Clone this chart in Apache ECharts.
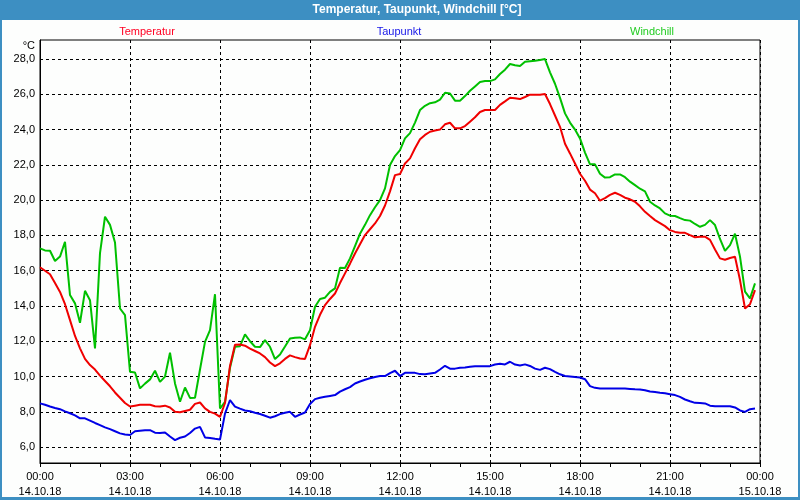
<!DOCTYPE html>
<html>
<head>
<meta charset="utf-8">
<script src="https://cdn.jsdelivr.net/npm/echarts@6/dist/echarts.min.js"></script>
<style>
html,body{margin:0;padding:0;background:#fff;}
#chart{width:800px;height:500px;}
</style>
</head>
<body>
<div id="chart"></div>
<script>
// 10-minute samples, 14.10.18 00:00 .. 23:50
const STEP_MIN = 10;
const temperatur = [
  16.2, 16.0, 15.8, 15.3, 14.8, 14.1,
  13.2, 12.3, 11.6, 11.0, 10.65, 10.4,
  10.05, 9.75, 9.45, 9.1, 8.8, 8.5,
  8.3, 8.35, 8.4, 8.4, 8.4, 8.32,
  8.3, 8.35, 8.25, 8.0, 7.98, 8.05,
  8.12, 8.45, 8.53, 8.2, 8.0, 7.9,
  7.72, 8.5, 10.6, 11.8, 11.82, 11.75,
  11.58, 11.45, 11.31, 11.1, 10.8, 10.59,
  10.75, 11.0, 11.2, 11.1, 11.02, 11.0,
  11.78, 12.82, 13.5, 14.05, 14.4, 14.71,
  15.3, 15.85, 16.4, 16.98, 17.5, 18.02,
  18.35, 18.68, 19.1, 19.7, 20.5, 21.42,
  21.48, 22.08, 22.37, 22.94, 23.45, 23.7,
  23.88, 23.95, 24.0, 24.3, 24.39, 24.07,
  24.07, 24.2, 24.45, 24.7, 25.0, 25.11,
  25.11, 25.11, 25.4, 25.6, 25.81, 25.78,
  25.73, 25.85, 25.98, 25.98, 25.98, 26.02,
  25.45, 24.8, 24.16, 23.2, 22.65, 22.08,
  21.5, 21.1, 20.6, 20.39, 19.97, 20.12,
  20.3, 20.42, 20.3, 20.14, 20.05, 19.91,
  19.65, 19.34, 19.1, 18.87, 18.7, 18.53,
  18.3, 18.2, 18.15, 18.15, 18.02, 17.9,
  17.92, 17.93, 17.75, 17.2, 16.7, 16.62,
  16.72, 16.79, 15.47, 13.86, 14.1, 14.9
];
const taupunkt = [
  8.48, 8.4, 8.3, 8.22, 8.15, 8.03,
  7.92, 7.8, 7.63, 7.63, 7.5, 7.37,
  7.25, 7.12, 7.02, 6.9, 6.78, 6.72,
  6.69, 6.9, 6.93, 6.96, 6.96, 6.82,
  6.8, 6.83, 6.6, 6.4, 6.53, 6.6,
  6.8, 7.05, 7.15, 6.55, 6.52, 6.47,
  6.43, 7.9, 8.67, 8.3, 8.18, 8.08,
  8.03, 7.95, 7.88, 7.78, 7.67, 7.75,
  7.87, 7.95, 8.0, 7.72, 7.85, 7.96,
  8.45, 8.72, 8.8, 8.85, 8.9, 8.95,
  9.15, 9.28, 9.4, 9.61, 9.72, 9.82,
  9.9, 9.98, 10.03, 10.03, 10.2, 10.33,
  10.03, 10.21, 10.21, 10.21, 10.14, 10.13,
  10.17, 10.21, 10.4, 10.61, 10.45, 10.45,
  10.5, 10.52, 10.56, 10.59, 10.59, 10.59,
  10.59, 10.68, 10.72, 10.69, 10.84, 10.68,
  10.63, 10.69, 10.6, 10.45, 10.38, 10.5,
  10.42, 10.27, 10.13, 10.03, 10.0, 9.97,
  9.95, 9.85, 9.46, 9.36, 9.33, 9.33,
  9.33, 9.33, 9.33, 9.32, 9.3, 9.28,
  9.27, 9.22, 9.15, 9.12, 9.08, 9.05,
  9.0, 8.95, 8.85, 8.7, 8.6, 8.51,
  8.5, 8.48, 8.35, 8.32, 8.32, 8.32,
  8.32, 8.25, 8.08, 8.0, 8.15, 8.19
];
const windchill = [
  17.27, 17.15, 17.13, 16.55, 16.8, 17.64,
  14.62, 14.15, 13.05, 14.86, 14.33, 11.6,
  17.0, 19.06, 18.6, 17.6, 13.86, 13.48,
  10.27, 10.23, 9.33, 9.6, 9.84, 10.33,
  9.7, 10.0, 11.35, 9.61, 8.57, 9.38,
  8.79, 8.8, 10.4, 11.97, 12.63, 14.67,
  8.19, 8.57, 10.5, 11.69, 11.72, 12.39,
  12.0, 11.69, 11.67, 12.07, 11.69, 10.99,
  11.25, 11.7, 12.16, 12.2, 12.22, 12.11,
  12.63, 13.96, 14.4, 14.47, 14.8, 15.0,
  16.17, 16.15, 16.7, 17.4, 18.1, 18.6,
  19.15, 19.6, 20.0, 20.67, 21.99, 22.5,
  22.84, 23.5, 23.8, 24.4, 25.11, 25.35,
  25.5, 25.55, 25.7, 26.09, 26.05, 25.64,
  25.64, 25.9, 26.2, 26.45, 26.7, 26.75,
  26.75, 26.85, 27.15, 27.4, 27.72, 27.65,
  27.6, 27.85, 27.88, 27.91, 27.95, 28.0,
  27.25, 26.6, 25.8, 24.92, 24.4, 24.0,
  23.5, 22.7, 22.03, 22.03, 21.5, 21.28,
  21.3, 21.46, 21.46, 21.3, 21.05, 20.85,
  20.65, 20.5, 19.91, 19.7, 19.53, 19.25,
  19.12, 19.1, 18.98, 18.87, 18.84, 18.65,
  18.49, 18.6, 18.87, 18.59, 17.8, 17.13,
  17.45, 18.1, 16.8, 14.81, 14.43, 15.28
];
const X_LABELS = [
  '00:00\n14.10.18', '03:00\n14.10.18', '06:00\n14.10.18', '09:00\n14.10.18',
  '12:00\n14.10.18', '15:00\n14.10.18', '18:00\n14.10.18', '21:00\n14.10.18',
  '00:00\n15.10.18'
];
const Y_TICKS = [6, 8, 10, 12, 14, 16, 18, 20, 22, 24, 26, 28];
const SERIES_NAMES = ['Temperatur', 'Taupunkt', 'Windchill'];

const FONT = 'Liberation Sans';
const toPairs = arr => arr.map((v, i) => [i * STEP_MIN / 60, v]);

const chart = echarts.init(document.getElementById('chart'), null, {renderer: 'canvas'});
const dash = [3, 3];
chart.setOption({
  animation: false,
  backgroundColor: '#fdfefd',
  textStyle: {fontFamily: FONT},
  grid: {left: 40, right: 40, top: 40, bottom: 37, show: true, borderColor: '#000', borderWidth: 1, backgroundColor: '#fdfefd'},
  xAxis: {
    type: 'value', min: 0, max: 24, interval: 3,
    axisLine: {show: true, lineStyle: {color: '#000', width: 1}},
    axisTick: {show: true, length: 4, lineStyle: {color: '#000'}},
    minorTick: {show: true, splitNumber: 3, length: 4, lineStyle: {color: '#000'}},
    splitLine: {show: true, lineStyle: {color: '#000', type: dash, width: 1}},
    axisLabel: {
      color: '#000', fontFamily: FONT, fontSize: 11, lineHeight: 15, margin: 6,
      formatter: v => X_LABELS[Math.round(v / 3)]
    }
  },
  yAxis: {
    type: 'value', min: 5.1, max: 29.08,
    axisLine: {show: true, lineStyle: {color: '#000', width: 1}},
    axisTick: {show: false, customValues: Y_TICKS},
    splitLine: {show: true, lineStyle: {color: '#000', type: dash, width: 1}},
    axisLabel: {
      color: '#000', fontFamily: FONT, fontSize: 11, margin: 5,
      customValues: Y_TICKS,
      formatter: v => v.toFixed(1).replace('.', ',')
    }
  },
  series: [
    {name: SERIES_NAMES[0], type: 'line', data: toPairs(temperatur), showSymbol: false, symbol: 'none', lineStyle: {color: '#f00000', width: 2}, z: 3},
    {name: SERIES_NAMES[1], type: 'line', data: toPairs(taupunkt), showSymbol: false, symbol: 'none', lineStyle: {color: '#0000e6', width: 2}, z: 3},
    {name: SERIES_NAMES[2], type: 'line', data: toPairs(windchill), showSymbol: false, symbol: 'none', lineStyle: {color: '#00c000', width: 2}, z: 2}
  ],
  graphic: [
    {type: 'rect', shape: {x: 0, y: 0, width: 800, height: 20}, style: {fill: '#3d8fc2'}, z: 10},
    {type: 'rect', shape: {x: 0, y: 0, width: 2, height: 500}, style: {fill: '#3d8fc2'}, z: 10},
    {type: 'rect', shape: {x: 798, y: 0, width: 2, height: 500}, style: {fill: '#3d8fc2'}, z: 10},
    {type: 'rect', shape: {x: 0, y: 497, width: 800, height: 3}, style: {fill: '#3d8fc2'}, z: 10},
    {type: 'text', x: 417, y: 10, z: 11, style: {text: 'Temperatur, Taupunkt, Windchill [°C]', fill: '#fff', font: 'bold 12px "Liberation Sans"', textAlign: 'center', textVerticalAlign: 'middle'}},
    {type: 'text', x: 147, y: 32, z: 11, style: {text: SERIES_NAMES[0], fill: '#ff0022', font: '11px "Liberation Sans"', textAlign: 'center', textVerticalAlign: 'middle'}},
    {type: 'text', x: 399, y: 32, z: 11, style: {text: SERIES_NAMES[1], fill: '#1515e8', font: '11px "Liberation Sans"', textAlign: 'center', textVerticalAlign: 'middle'}},
    {type: 'text', x: 652, y: 32, z: 11, style: {text: SERIES_NAMES[2], fill: '#22cc22', font: '11px "Liberation Sans"', textAlign: 'center', textVerticalAlign: 'middle'}},
    {type: 'text', x: 35, y: 46, z: 11, style: {text: '°C', fill: '#000', font: '11px "Liberation Sans"', textAlign: 'right', textVerticalAlign: 'middle'}}
  ]
});
</script>
</body>
</html>
